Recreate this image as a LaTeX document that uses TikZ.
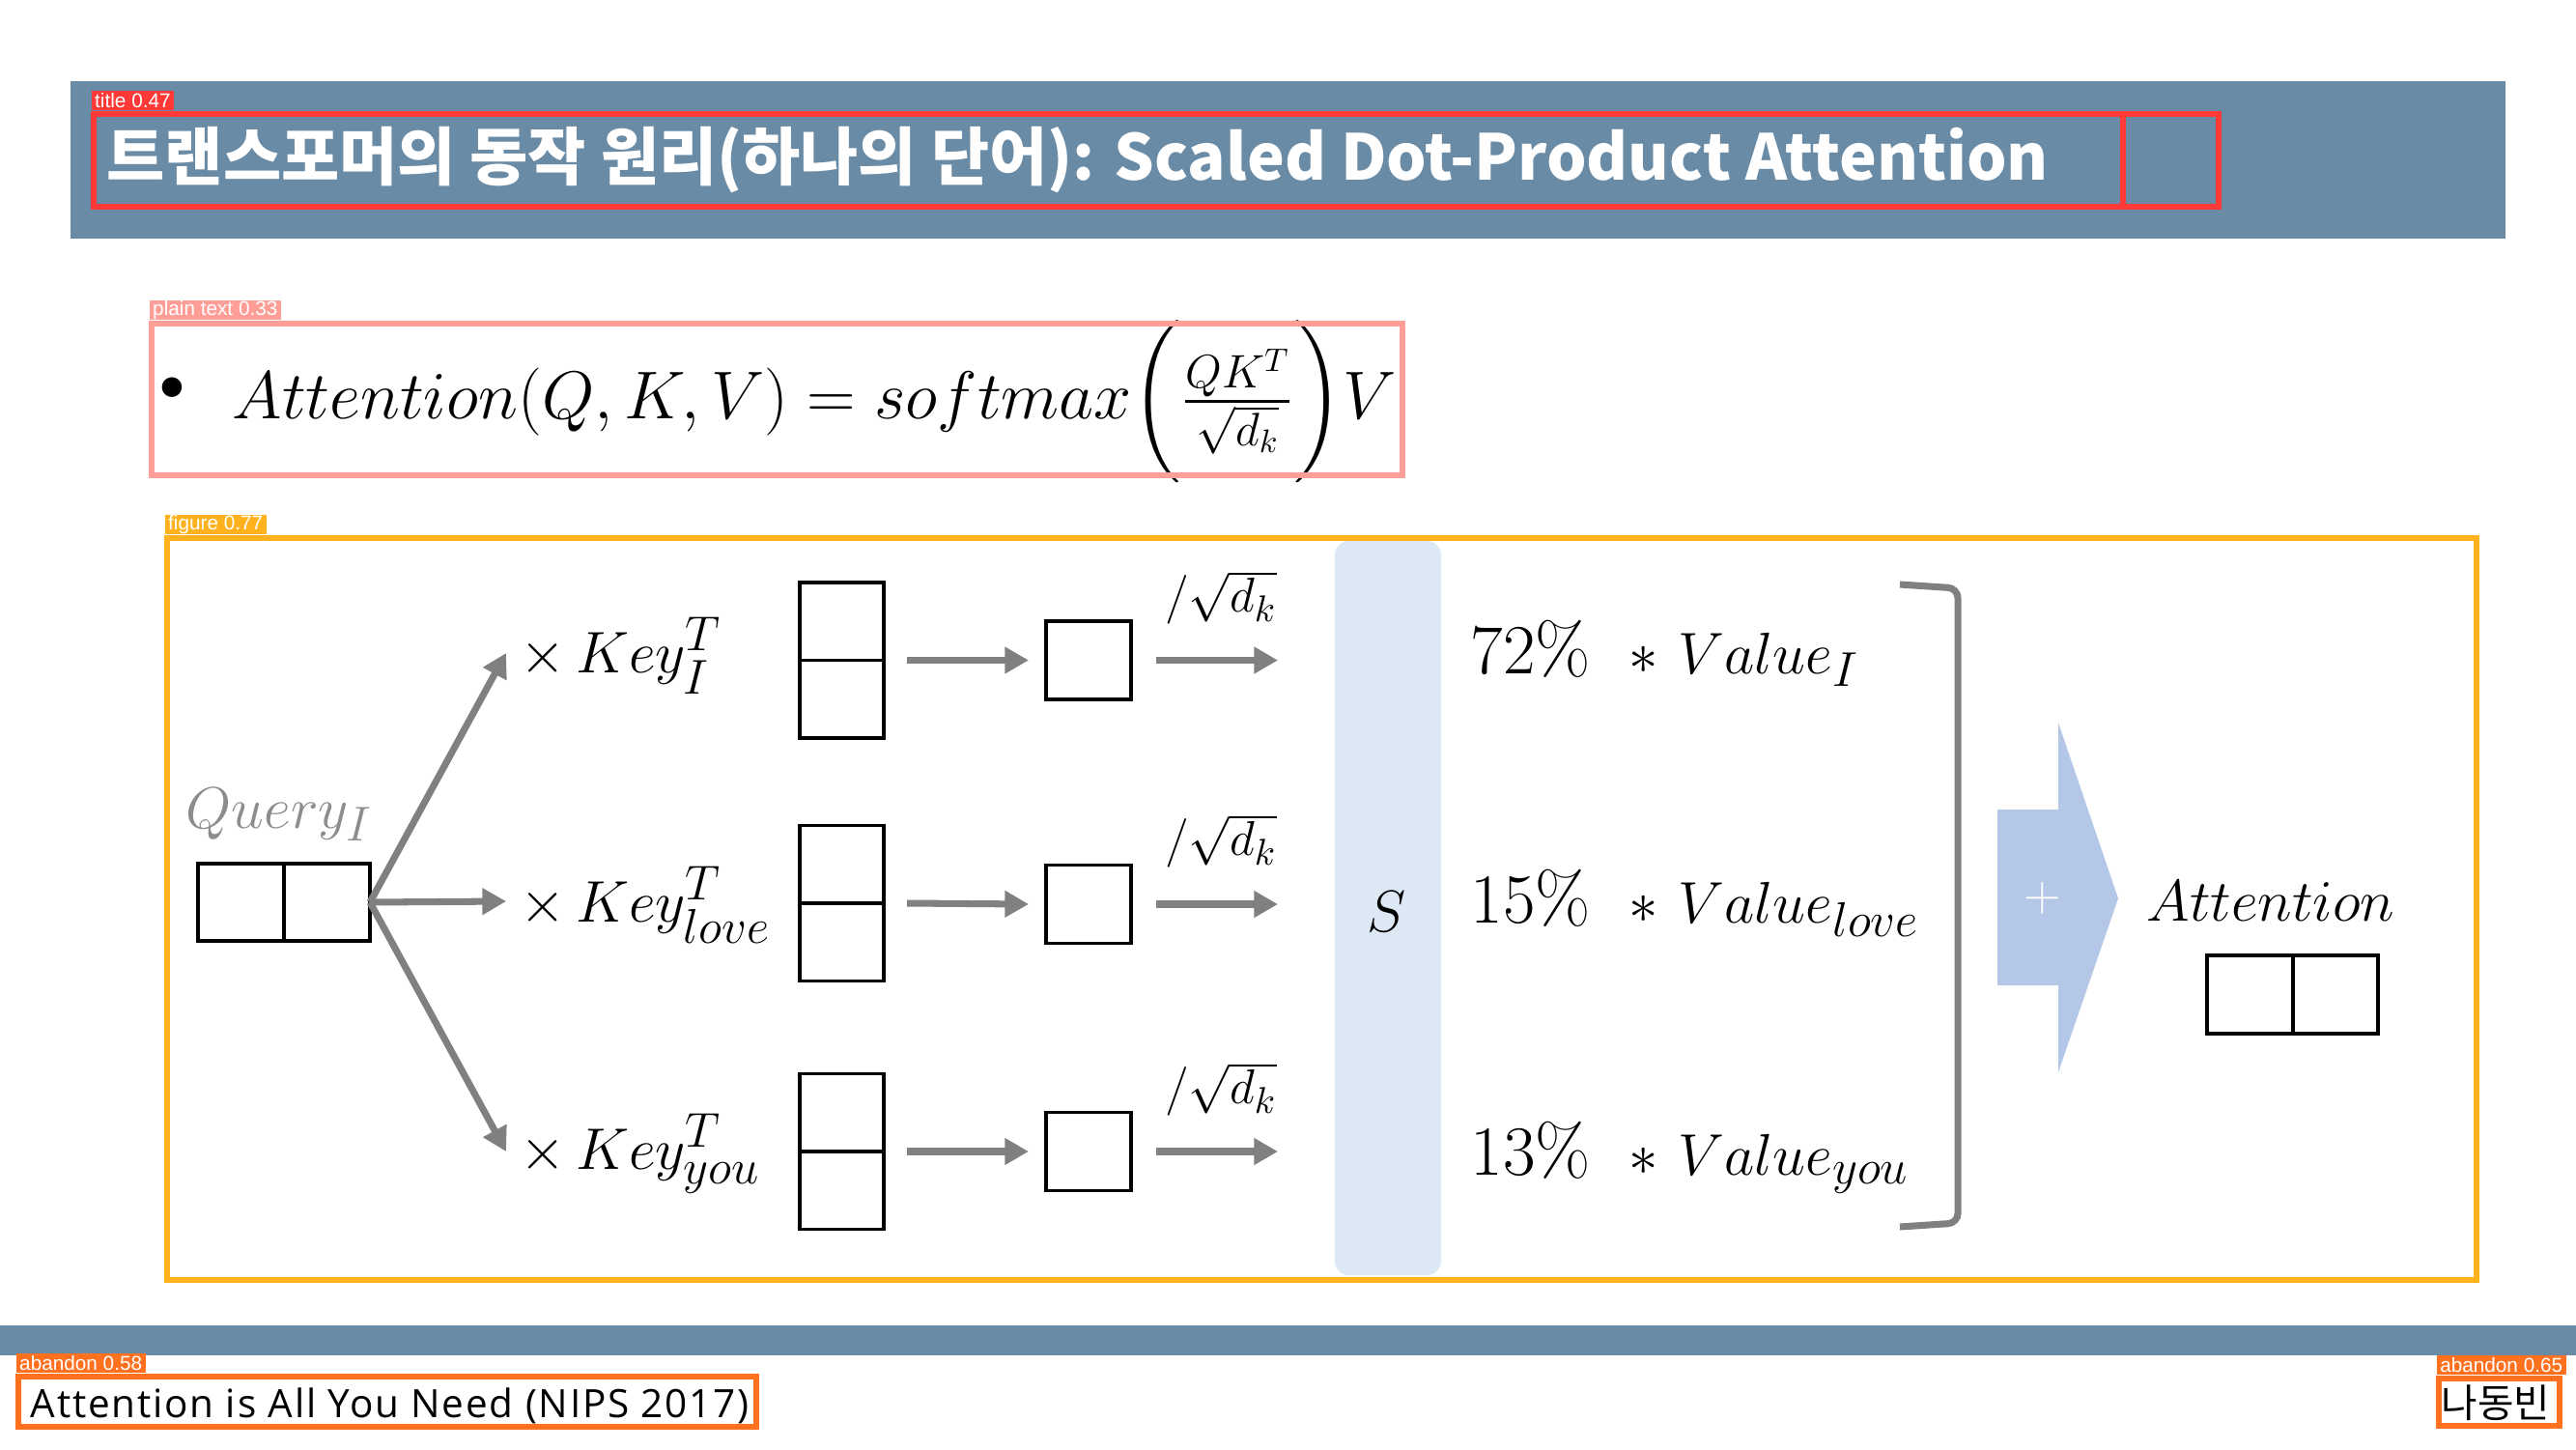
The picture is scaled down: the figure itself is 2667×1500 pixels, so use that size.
\documentclass[tikz,border=0pt]{standalone}
\usepackage{amsmath}
\usepackage{graphicx}
\usepackage{fontspec}
\newfontfamily\krfont{Noto Sans CJK KR}
\newfontfamily\reffont[LetterSpace=4.5]{Open Sans}
\newfontfamily\tagfont{Liberation Sans}
\usetikzlibrary{arrows.meta,calc}

\definecolor{barblue}{RGB}{106,139,165}
\definecolor{detred}{HTML}{FF3838}
\definecolor{detsalmon}{HTML}{FF9D97}
\definecolor{detorange}{HTML}{FF701F}
\definecolor{detyellow}{HTML}{FFB21D}
\definecolor{sbarfill}{RGB}{221,232,245}
\definecolor{plusfill}{HTML}{B4C7E7}
\definecolor{arrowgray}{RGB}{128,128,128}
\definecolor{querygray}{RGB}{140,140,140}

\newcommand{\pct}[1]{{\fontsize{21}{25}\selectfont$#1\%$}}

\begin{document}
\begin{tikzpicture}[x=0.01cm,y=-0.01cm,
  detbox/.style={draw=#1,line width=1.7pt},
  dettag/.style={anchor=south west,fill=#1,text=white,inner xsep=1pt,inner ysep=0pt,
    minimum height=0.2cm,font=\tagfont\fontsize{5.9}{6}\selectfont},
  cell/.style={draw=black,line width=1.1pt,inner sep=0pt,outer sep=0pt},
  garrow/.style={draw=arrowgray,line width=2pt,-{Triangle[length=7pt,width=7.5pt]}},
  mathlbl/.style={inner sep=0pt,font=\fontsize{19}{23}\selectfont},
  scalelbl/.style={inner sep=0pt,font=\fontsize{15}{18}\selectfont},
]
\useasboundingbox (0,0) rectangle (2667,1500);

% header and footer bars
\fill[barblue] (73,84) rectangle (2594,247);
\fill[barblue] (0,1372) rectangle (2667,1403);

\node[anchor=base west,text=white,inner sep=0pt,
  font=\krfont\bfseries\fontsize{18.6}{22}\selectfont] (title) at (110,187)
  {트랜스포머의 동작 원리(하나의 단어): Scaled Dot-Product Attention};

\node[anchor=base west,inner sep=0pt,font=\reffont\fontsize{11.5}{13}\selectfont]
  (ref) at (31,1467) {Attention is All You Need (NIPS 2017)};
\node[anchor=base west,inner sep=0pt,font=\krfont\fontsize{11.6}{13}\selectfont]
  (author) at (2527,1467) {나동빈};

% formula line
\node[inner sep=0pt,font=\fontsize{26}{28}\selectfont] (bullet) at (178,408) {\textbullet};
\node[anchor=base west,inner sep=0pt,font=\fontsize{19.5}{23}\selectfont] (formula) at (240,433)
  {\scalebox{0.96}{$Attention(Q,K,V)=softmax\biggl(\tfrac{QK^T}{\sqrt{d_k}}\biggr)V$}};

% query vector
\node[mathlbl,text=querygray,anchor=base west] (qlbl) at (192,857) {$Query_I$};
\node[cell,minimum width=0.89cm,minimum height=0.80cm] (q1) at (249.5,934) {};
\node[cell,minimum width=0.89cm,minimum height=0.80cm] (q2) at (338.5,934) {};

% key labels
\node[mathlbl,anchor=base west] (k1) at (538,696) {$\times\,Key_I^T$};
\node[mathlbl,anchor=base west] (k2) at (538,954) {$\times\,Key_{love}^T$};
\node[mathlbl,anchor=base west] (k3) at (538,1210) {$\times\,Key_{you}^T$};

\coordinate (t1) at (524,676);
\coordinate (t2) at (524,933);
\coordinate (t3) at (524,1192);
\draw[garrow] (q2.east) -- (t1);
\draw[garrow] (q2.east) -- (t2);
\draw[garrow] (q2.east) -- (t3);

% key columns
\foreach \i/\y in {1/683.5,2/935,3/1192}{
  \node[cell,minimum width=0.87cm,minimum height=1.61cm] (kc\i) at (871.5,\y) {};
  \draw[line width=1.1pt] (kc\i.west) -- (kc\i.east);
}
% score cells
\node[cell,minimum width=0.88cm,minimum height=0.81cm] (d1) at (1127,683.5) {};
\node[cell,minimum width=0.88cm,minimum height=0.81cm] (d2) at (1127,936) {};
\node[cell,minimum width=0.88cm,minimum height=0.81cm] (d3) at (1127,1192) {};

\foreach \i in {1,2,3}{
  \draw[garrow] ([xshift=0.24cm]kc\i.east) -- ([xshift=-0.18cm]d\i.west);
}
\coordinate (e1) at (1323,683.5);
\coordinate (e2) at (1323,936);
\coordinate (e3) at (1323,1192);
\foreach \i in {1,2,3}{
  \draw[garrow] ([xshift=0.26cm]d\i.east) -- (e\i);
}
\node[scalelbl] (s1) at (1264,619) {$/\sqrt{d_k}$};
\node[scalelbl] (s2) at (1264,871) {$/\sqrt{d_k}$};
\node[scalelbl] (s3) at (1264,1128) {$/\sqrt{d_k}$};

% softmax bar
\node[fill=sbarfill,rounded corners=0.15cm,minimum width=1.1cm,minimum height=7.6cm] (sbar) at (1437,940) {};
\node[mathlbl] (slbl) at (1436,944) {$S$};

% weighted values
\node[mathlbl,anchor=base west] (v1) at (1522,697) {\pct{72}$\ \ \ast\ Value_I$};
\node[mathlbl,anchor=base west] (v2) at (1522,955) {\pct{15}$\ \ \ast\ Value_{love}$};
\node[mathlbl,anchor=base west] (v3) at (1522,1216) {\pct{13}$\ \ \ast\ Value_{you}$};

\draw[arrowgray,line width=2pt,rounded corners=0.1cm]
  (1967,605) -- (2027,609) -- (2027,1266) -- (1967,1270);

% sum arrow
\fill[plusfill] (2068,838) -- (2131,838) -- (2131,748) -- (2193,930) -- (2131,1110)
  -- (2131,1020) -- (2068,1020) -- cycle;
\node[text=white,inner sep=0pt,font=\fontsize{15}{18}\selectfont] (plus) at (2115,930) {$+$};

% output
\node[inner sep=0pt,anchor=base west,font=\fontsize{18.8}{23}\selectfont] (att) at (2222,953) {$Attention$};
\node[cell,minimum width=0.89cm,minimum height=0.81cm] (o1) at (2329.5,1029.5) {};
\node[cell,minimum width=0.88cm,minimum height=0.81cm] (o2) at (2418,1029.5) {};

% detection overlays
\draw[detbox=detred] (97,118) rectangle (2297,214);
\draw[detred,line width=1.7pt] (2198,118) -- (2198,214);
\node[dettag=detred] (tagtitle) at (94,115) {title 0.47};

\draw[detbox=detsalmon] (157,335) rectangle (1452,492);
\node[dettag=detsalmon] (tagtext) at (154,332) {plain text 0.33};

\draw[detbox=detyellow] (173,557) rectangle (2564,1325);
\node[dettag=detyellow] (tagfig) at (170,554) {figure 0.77};

\draw[detbox=detorange] (19,1425) rectangle (783,1477);
\node[dettag=detorange] (tagab1) at (16,1422) {abandon 0.58};

\draw[detbox=detorange] (2525,1427) rectangle (2650,1476);
\node[dettag=detorange] (tagab2) at (2522,1424) {abandon 0.65};
\end{tikzpicture}
\end{document}
